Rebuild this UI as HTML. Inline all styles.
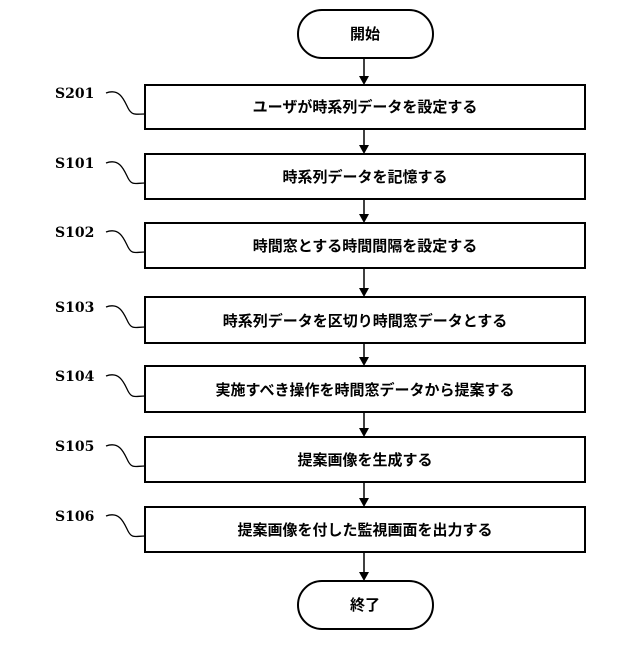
<!DOCTYPE html>
<html><head><meta charset="utf-8"><style>
html,body{margin:0;padding:0;background:#fff}
text{font-family:"Liberation Sans","Noto Sans CJK JP",sans-serif;font-size:15px;font-weight:bold;fill:#000}
text.l{font-family:"DejaVu Serif","Liberation Serif",serif;font-size:14px;font-weight:bold}
</style></head><body>
<svg width="640" height="640" viewBox="0 0 640 640" xmlns="http://www.w3.org/2000/svg">
<g fill="none" stroke="#000" stroke-width="2">
<rect x="298" y="10" width="135" height="48" rx="24"/>
<rect x="298" y="581" width="135" height="48" rx="24"/>
<rect x="145" y="85" width="440" height="44"/>
<rect x="145" y="154" width="440" height="45"/>
<rect x="145" y="223" width="440" height="45"/>
<rect x="145" y="297" width="440" height="46"/>
<rect x="145" y="366" width="440" height="46"/>
<rect x="145" y="437" width="440" height="45"/>
<rect x="145" y="507" width="440" height="45"/>
<g stroke-width="1.5">
<line x1="364" y1="58" x2="364" y2="78"/>
<line x1="364" y1="129" x2="364" y2="147"/>
<line x1="364" y1="199" x2="364" y2="216"/>
<line x1="364" y1="268" x2="364" y2="290"/>
<line x1="364" y1="343" x2="364" y2="359"/>
<line x1="364" y1="412" x2="364" y2="430"/>
<line x1="364" y1="482" x2="364" y2="500"/>
<line x1="364" y1="552" x2="364" y2="574"/>
</g>
<g stroke-width="1.3">
<path d="M106,93 C120,88 124,100 128,108 C132,116 136,114 145,114"/>
<path d="M106,163 C120,158 124,170 128,178 C132,186 136,183 145,183"/>
<path d="M106,232 C120,227 124,239 128,247 C132,255 136,252 145,252"/>
<path d="M106,307 C120,302 124,314 128,322 C132,330 136,327 145,327"/>
<path d="M106,376 C120,371 124,383 128,391 C132,399 136,396 145,396"/>
<path d="M106,446 C120,441 124,453 128,461 C132,469 136,466 145,466"/>
<path d="M106,516 C120,511 124,523 128,531 C132,539 136,536 145,536"/>
</g>
</g>
<g fill="#000">
<path d="M359,76 L369,76 L364,85 Z"/>
<path d="M359,145 L369,145 L364,154 Z"/>
<path d="M359,214 L369,214 L364,223 Z"/>
<path d="M359,288 L369,288 L364,297 Z"/>
<path d="M359,357 L369,357 L364,366 Z"/>
<path d="M359,428 L369,428 L364,437 Z"/>
<path d="M359,498 L369,498 L364,507 Z"/>
<path d="M359,572 L369,572 L364,581 Z"/>
</g>
<text class="l" x="55" y="98">S201</text>
<text class="l" x="55" y="168">S101</text>
<text class="l" x="55" y="237">S102</text>
<text class="l" x="55" y="312">S103</text>
<text class="l" x="55" y="381">S104</text>
<text class="l" x="55" y="451">S105</text>
<text class="l" x="55" y="521">S106</text>
<g text-anchor="middle">
<text x="365" y="39">開始</text>
<text x="365" y="610">終了</text>
<text x="365" y="112">ユーザが時系列データを設定する</text>
<text x="365" y="182">時系列データを記憶する</text>
<text x="365" y="251">時間窓とする時間間隔を設定する</text>
<text x="365" y="326">時系列データを区切り時間窓データとする</text>
<text x="365" y="395">実施すべき操作を時間窓データから提案する</text>
<text x="365" y="465">提案画像を生成する</text>
<text x="365" y="535">提案画像を付した監視画面を出力する</text>
</g>
</svg>
</body></html>
